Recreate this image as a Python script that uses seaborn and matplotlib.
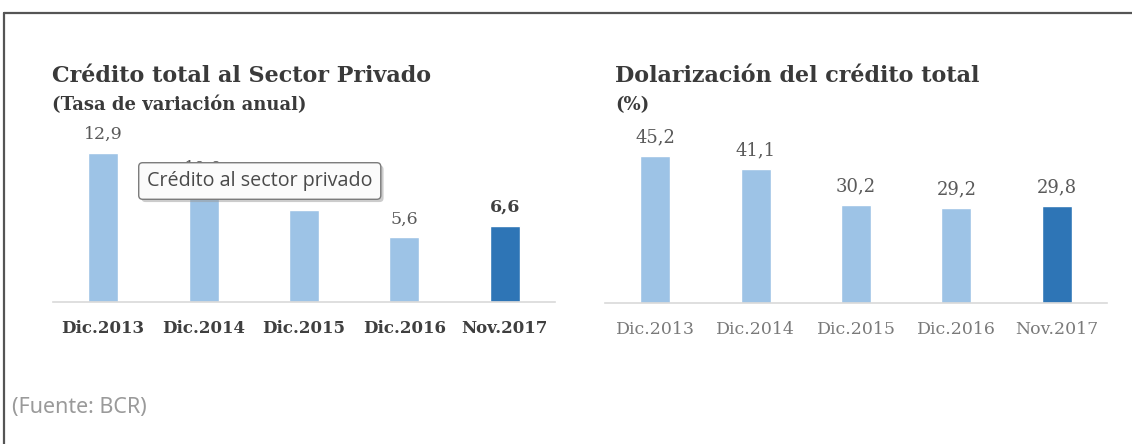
import matplotlib
matplotlib.use("Agg")
import matplotlib.pyplot as plt
from matplotlib.lines import Line2D
from matplotlib import patheffects
import numpy as np
import pandas as pd
import seaborn as sns

# ---- data ----
periods = ["Dic.2013", "Dic.2014", "Dic.2015", "Dic.2016", "Nov.2017"]
credit_growth = [12.9, 10.0, 8.0, 5.6, 6.6]
dollarization = [45.2, 41.1, 30.2, 29.2, 29.8]

title_left = "Crédito total al Sector Privado"
subtitle_left = "(Tasa de variación anual)"
title_right = "Dolarización del crédito total"
subtitle_right = "(%)"
source_note = "(Fuente: BCR)"
tooltip_text = "Crédito al sector privado"

light_blue = "#9dc3e6"
dark_blue = "#2e75b6"
palette = [light_blue] * 4 + [dark_blue]

sns.set_theme(style="white")
plt.rcParams["font.family"] = ["DejaVu Serif"]

W, H = 1132, 444
fig = plt.figure(figsize=(W / 100, H / 100), dpi=100)
fig.patch.set_facecolor("white")


def px_axes(left, top_px, base_px, width):
    return fig.add_axes([left / W, (H - base_px) / H, width / W, (base_px - top_px) / H])


def fmt(v):
    return f"{v:.1f}".replace(".", ",")


def draw_panel(ax, values, ymax, tick_bold, tick_color, tick_size, label_size,
               label_weights, label_colors, gap_pt):
    df = pd.DataFrame({"periodo": periods, "valor": values})
    sns.barplot(data=df, x="periodo", y="valor", hue="periodo", palette=palette,
                width=0.3, legend=False, ax=ax, saturation=1)
    ax.set_xlim(-0.5, len(periods) - 0.5)
    ax.set_ylim(0, ymax)
    for s in ["top", "right", "left"]:
        ax.spines[s].set_visible(False)
    ax.spines["bottom"].set_color("#d9d9d9")
    ax.spines["bottom"].set_linewidth(1.2)
    ax.set_yticks([])
    ax.set_xlabel("")
    ax.set_ylabel("")
    ax.set_xticks(np.arange(-0.5, len(periods)), minor=True)
    ax.tick_params(axis="x", which="minor", length=5, color="#d9d9d9", width=1)
    ax.tick_params(axis="x", which="major", length=0, pad=13)
    for lbl in ax.get_xticklabels():
        lbl.set_fontsize(tick_size)
        lbl.set_color(tick_color)
        lbl.set_fontweight("bold" if tick_bold else "normal")
    for i, v in enumerate(values):
        ax.annotate(fmt(v), (i, v), xytext=(0, gap_pt), textcoords="offset points",
                    ha="center", va="bottom", fontsize=label_size,
                    fontweight=label_weights[i], color=label_colors[i])


# left panel: credit growth (11.55 px per unit)
ax1 = px_axes(53, 120, 302, 502)
draw_panel(ax1, credit_growth, 182 / 11.55, True, "#3f3f3f", 12, 12.5,
           ["normal", "normal", "normal", "normal", "bold"],
           ["#595959"] * 4 + ["#404040"], 7)

# right panel: dollarization (3.25 px per unit)
ax2 = px_axes(605, 120, 303, 502)
draw_panel(ax2, dollarization, 183 / 3.25, False, "#7a7a7a", 12.5, 13,
           ["normal"] * 5, ["#5a5a5a"] * 5, 7)

# titles
fig.text(52 / W, 1 - 82 / H, title_left, fontsize=16, fontweight="bold", color="#3a3a3a")
fig.text(52 / W, 1 - 110 / H, subtitle_left, fontsize=13, fontweight="bold", color="#3a3a3a")
fig.text(615 / W, 1 - 82 / H, title_right, fontsize=16, fontweight="bold", color="#3a3a3a")
fig.text(615 / W, 1 - 110 / H, subtitle_right, fontsize=13, fontweight="bold", color="#3a3a3a")

# source note
fig.text(12 / W, 1 - 413 / H, source_note, fontsize=15.5, color="#9a9a9a",
         family=["Noto Sans", "DejaVu Sans"])

# hover tooltip over the left panel
tip = fig.text(147 / W, 1 - 181 / H, tooltip_text, fontsize=14.2, color="#4a4a4a",
               family=["Open Sans", "DejaVu Sans"], va="center", ha="left", zorder=20,
               bbox=dict(boxstyle="round,pad=0.42,rounding_size=0.2", facecolor="#fbfbfb",
                         edgecolor="#7a7a7a", linewidth=1.0))
tip.get_bbox_patch().set_path_effects([
    patheffects.withSimplePatchShadow(offset=(2, -2), shadow_rgbFace="#9a9a9a", alpha=0.5)
])

# frame around the panel (top and left edges)
fig.add_artist(Line2D([4 / W, 1], [1 - 13 / H, 1 - 13 / H], transform=fig.transFigure,
                      color="#555555", linewidth=1.6))
fig.add_artist(Line2D([4 / W, 4 / W], [0, 1 - 13 / H], transform=fig.transFigure,
                      color="#555555", linewidth=1.6))

fig.savefig("out.png", dpi=100, facecolor="white")
